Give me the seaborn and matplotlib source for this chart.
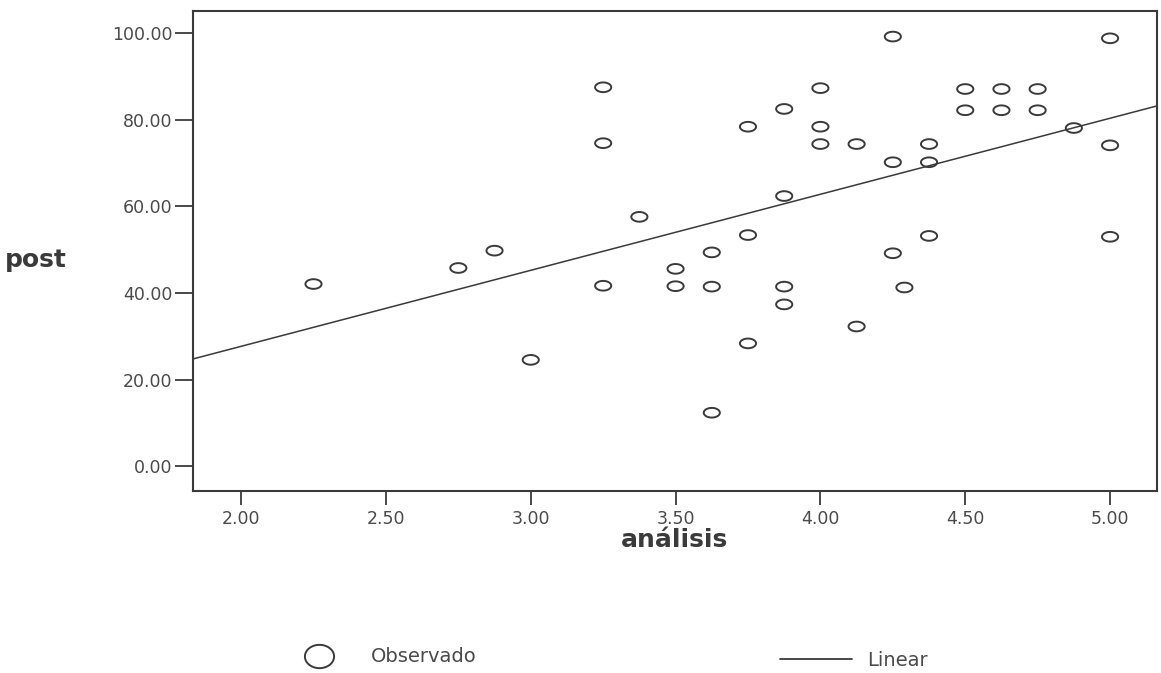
import numpy as np
import matplotlib
matplotlib.use("Agg")
import matplotlib.pyplot as plt
from matplotlib.path import Path
from matplotlib.lines import Line2D
import seaborn as sns

# Observed scores: "análisis" (x) versus "post" (y)
analisis = [2.25, 2.75, 2.875, 3.0, 3.25, 3.25, 3.25, 3.375, 3.5, 3.5,
            3.625, 3.625, 3.625, 3.75, 3.75, 3.75, 3.875, 3.875, 3.875, 3.875,
            4.0, 4.0, 4.0, 4.125, 4.125, 4.25, 4.25, 4.25, 4.29, 4.375,
            4.375, 4.375, 4.5, 4.5, 4.625, 4.625, 4.75, 4.75, 4.875, 5.0,
            5.0, 5.0]
post = [42.1, 45.8, 49.8, 24.6, 87.5, 74.6, 41.7, 57.6, 45.6, 41.6,
        49.4, 41.5, 12.4, 78.4, 53.4, 28.4, 82.5, 62.4, 41.5, 37.4,
        87.3, 78.4, 74.4, 74.4, 32.3, 99.2, 70.2, 49.2, 41.3, 74.4,
        70.2, 53.2, 87.1, 82.2, 87.1, 82.2, 87.1, 82.2, 78.1, 98.8,
        74.1, 53.0]

x_ticks = [2.0, 2.5, 3.0, 3.5, 4.0, 4.5, 5.0]
y_ticks = [0, 20, 40, 60, 80, 100]
legend_labels = ["Observado", "Linear"]

INK = "#3a3a3a"
TXT = "#4a4a4a"

sns.set_style("ticks")
plt.rcParams["font.family"] = ["DejaVu Sans"]

fig = plt.figure(figsize=(11.61, 6.73), dpi=100)
ax = fig.add_axes([193 / 1161, 1 - 491 / 673, (1157 - 193) / 1161, (491 - 11) / 673])

# Slightly flattened open ring used as the scatter marker
t = np.linspace(0, 2 * np.pi, 60)
ring = Path(np.column_stack([np.cos(t), 0.6 * np.sin(t)]), closed=True)
ring_big = Path(np.column_stack([np.cos(t), 0.8 * np.sin(t)]), closed=True)

xlim = (1.834, 5.162)
ylim = (-5.66, 105.1)
ax.set_xlim(*xlim)
ax.set_ylim(*ylim)

sns.regplot(x=analisis, y=post, ax=ax, ci=None, truncate=False, marker=ring,
            scatter_kws=dict(s=135, facecolors="none", edgecolors=INK,
                             linewidths=1.4, alpha=1),
            line_kws=dict(color=INK, lw=1.1))

ax.set_xlim(*xlim)
ax.set_ylim(*ylim)
ax.set_xticks(x_ticks)
ax.set_xticklabels([f"{v:.2f}" for v in x_ticks])
ax.set_yticks(y_ticks)
ax.set_yticklabels([f"{v:.2f}" for v in y_ticks])

for s in ax.spines.values():
    s.set_visible(True)
    s.set_color(INK)
    s.set_linewidth(1.5)

ax.tick_params(axis="x", length=10, width=1.3, color=INK, pad=4,
               labelsize=12.5, labelcolor=TXT)
ax.tick_params(axis="y", length=13, width=1.3, color=INK, pad=2,
               labelsize=12.5, labelcolor=TXT)

ax.set_xlabel("análisis", fontsize=18, fontweight="bold", color=INK)
ax.xaxis.set_label_coords(0.5, -0.102)
ax.xaxis.label.set_va("center")
ax.set_ylabel("post", fontsize=18, fontweight="bold", color=INK,
              rotation=0, ha="left", va="center")
ax.yaxis.set_label_coords(-0.195, 0.481)

# Legend below the plot: ring marker and fitted line
h_obs = Line2D([], [], marker=ring_big, linestyle="none", markersize=21,
               markerfacecolor="none", markeredgecolor=INK, markeredgewidth=1.4)
h_lin = Line2D([], [], color=INK, lw=1.3)
common = dict(frameon=False, borderpad=0, borderaxespad=0, handlelength=3.7,
              handletextpad=0.8, fontsize=14, labelcolor=TXT, loc="center left")
fig.legend([h_obs], [legend_labels[0]], bbox_to_anchor=(283 / 1161, 1 - 657 / 673), **common)
fig.legend([h_lin], [legend_labels[1]], bbox_to_anchor=(780 / 1161, 1 - 660 / 673), **common)

fig.savefig("out.png", dpi=100, facecolor="white")
